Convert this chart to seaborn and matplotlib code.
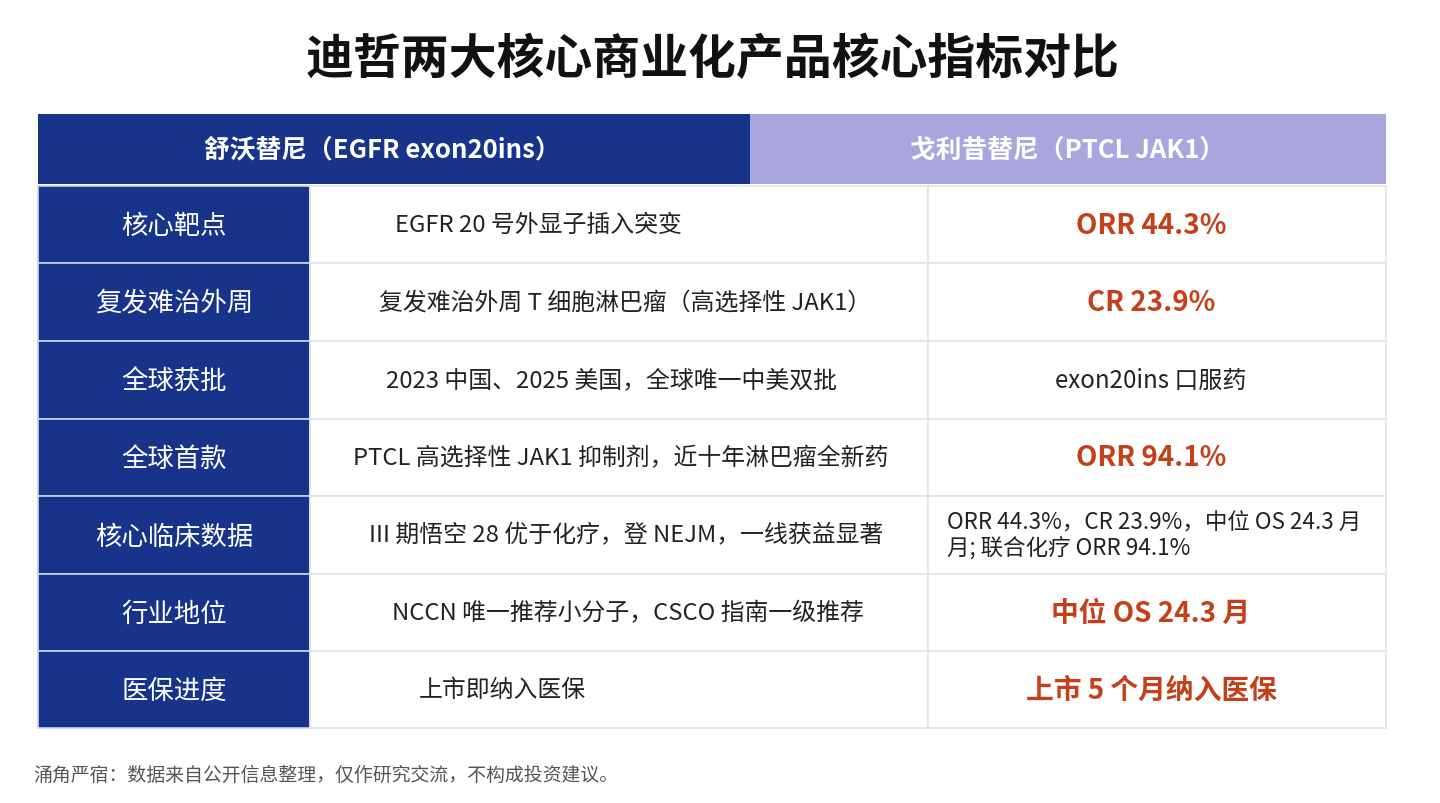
#!/usr/bin/env python3
"""Comparison table of two drugs' core indicators, drawn as a seaborn/matplotlib figure."""

import matplotlib
matplotlib.use("Agg")
import matplotlib.pyplot as plt
import seaborn as sns

# ---- table content ----
TITLE = "迪哲两大核心商业化产品核心指标对比"
HEADERS = ["舒沃替尼（EGFR exon20ins）", "戈利昔替尼（PTCL JAK1）"]
ROW_LABELS = ["核心靶点", "复发难治外周", "全球获批", "全球首款",
              "核心临床数据", "行业地位", "医保进度"]
MID_TEXT = [
    "EGFR 20 号外显子插入突变",
    "复发难治外周 T 细胞淋巴瘤（高选择性 JAK1）",
    "2023 中国、2025 美国，全球唯一中美双批",
    "PTCL 高选择性 JAK1 抑制剂，近十年淋巴瘤全新药",
    "III 期悟空 28 优于化疗，登 NEJM，一线获益显著",
    "NCCN 唯一推荐小分子，CSCO 指南一级推荐",
    "上市即纳入医保",
]
RIGHT_TEXT = [
    "ORR 44.3%",
    "CR 23.9%",
    "exon20ins 口服药",
    "ORR 94.1%",
    "ORR 44.3%，CR 23.9%，中位 OS 24.3 月\n月; 联合化疗 ORR 94.1%",
    "中位 OS 24.3 月",
    "上市 5 个月纳入医保",
]
RIGHT_HIGHLIGHT = [True, True, False, True, False, True, True]
FOOTNOTE = "涌角严宿：数据来自公开信息整理，仅作研究交流，不构成投资建议。"

# ---- layout (pixel units) ----
W, H = 1440, 804
X0, X_LAB, X_MID, X1 = 38, 310, 928, 1386
X_HEAD_SPLIT = 750
HEAD_TOP, HEAD_BOT = 115, 185
ROW_EDGES = [187, 264, 342, 420, 497, 575, 652, 729]
MID_CX = [538, 625, 611, 621, 626, 628, 502]

NAVY = "#17348a"
LAVENDER = "#a9a5dd"
RED = "#c4401a"
TEXT = "#222222"
GRID = "#e4e4e8"

sns.set_theme(style="white")
plt.rcParams["font.family"] = ["Noto Sans CJK SC", "DejaVu Sans"]

fig = plt.figure(figsize=(W / 100, H / 100), dpi=100)
ax = fig.add_axes([0, 0, 1, 1])
ax.set_xlim(0, W)
ax.set_ylim(H, 0)
ax.axis("off")

# title
ax.text(713, 60, TITLE, ha="center", va="center",
        fontsize=34.5, fontweight="heavy", color="#111111")

# header row
head_c = (HEAD_TOP + HEAD_BOT) / 2
head_h = HEAD_BOT - HEAD_TOP
ax.barh(head_c, X_HEAD_SPLIT - X0, left=X0, height=head_h, color=NAVY, linewidth=0)
ax.barh(head_c, X1 - X_HEAD_SPLIT, left=X_HEAD_SPLIT, height=head_h, color=LAVENDER, linewidth=0)
ax.text(382, head_c, HEADERS[0], ha="center", va="center",
        fontsize=18.5, fontweight="bold", color="white")
ax.text(1067, head_c, HEADERS[1], ha="center", va="center",
        fontsize=18.5, fontweight="bold", color="white")

# body rows
for i, label in enumerate(ROW_LABELS):
    top, bot = ROW_EDGES[i], ROW_EDGES[i + 1]
    yc = (top + bot) / 2
    h = bot - top
    ax.barh(yc, X_LAB - X0, left=X0, height=h, color=NAVY,
            edgecolor="#c9d3ee", linewidth=1.2)
    ax.barh(yc, X_MID - X_LAB, left=X_LAB, height=h, color="white",
            edgecolor=GRID, linewidth=1.2)
    ax.barh(yc, X1 - X_MID, left=X_MID, height=h, color="white",
            edgecolor=GRID, linewidth=1.2)

    ax.text((X0 + X_LAB) / 2, yc + 1, label, ha="center", va="center",
            fontsize=19, color="white")
    ax.text(MID_CX[i], yc, MID_TEXT[i], ha="center", va="center",
            fontsize=17.2, color=TEXT)

    if RIGHT_HIGHLIGHT[i]:
        ax.text(1151, yc, RIGHT_TEXT[i], ha="center", va="center",
                fontsize=20, fontweight="bold", color=RED)
    else:
        if "\n" in RIGHT_TEXT[i]:
            ax.text(947, yc, RIGHT_TEXT[i], ha="left", va="center",
                    fontsize=16.2, color=TEXT, linespacing=1.15)
        else:
            ax.text(1151, yc, RIGHT_TEXT[i], ha="center", va="center",
                    fontsize=17.3, color=TEXT)

# footnote
ax.text(33, 775, FOOTNOTE, ha="left", va="center", fontsize=13.6, color="#555555")

fig.savefig("out.png", dpi=100, facecolor="white")
plt.close(fig)
